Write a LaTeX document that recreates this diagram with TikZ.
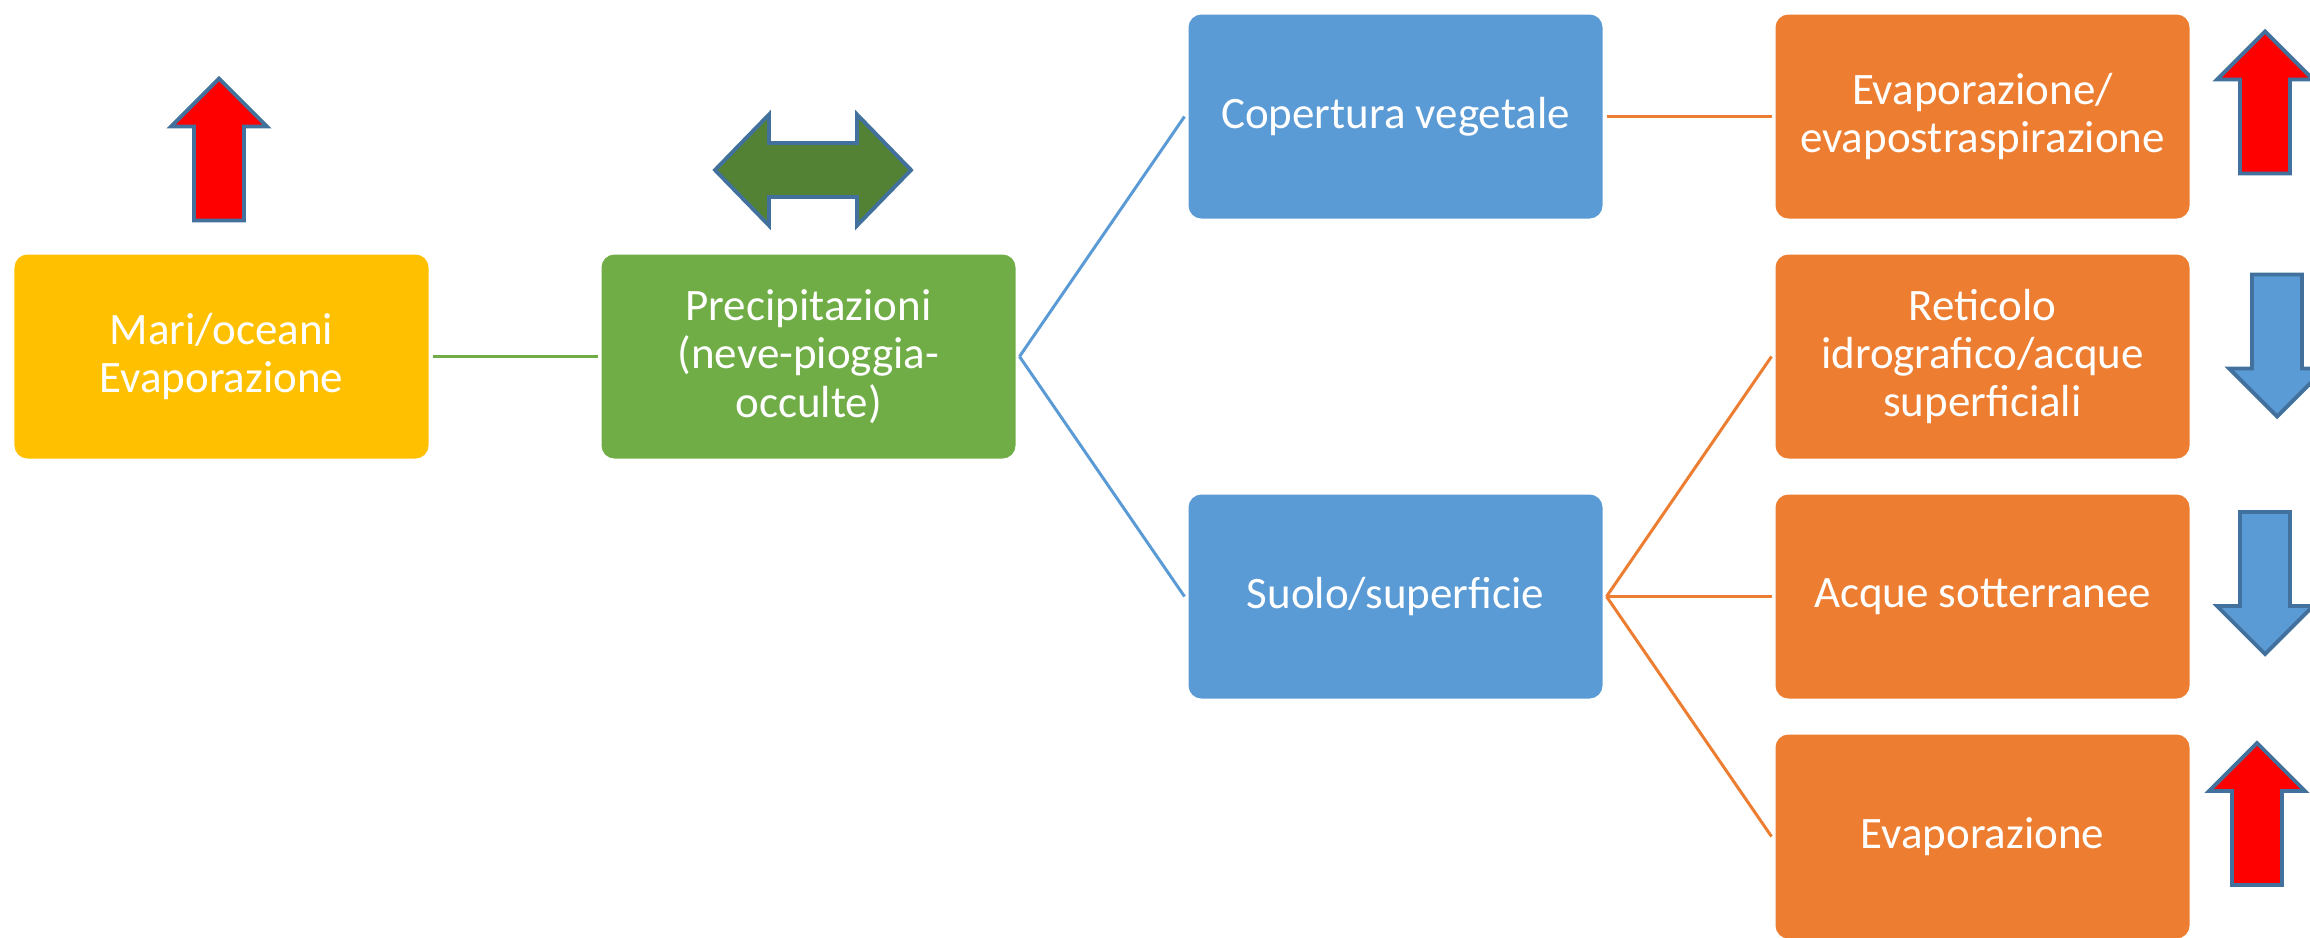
\documentclass[tikz,border=0pt]{standalone}
\usepackage{fontspec}
\setmainfont{Carlito}
\usetikzlibrary{positioning}
\definecolor{seaY}{HTML}{FFC000}
\definecolor{rainG}{HTML}{70AD47}
\definecolor{landB}{HTML}{5B9BD5}
\definecolor{flowO}{HTML}{ED7D31}
\definecolor{darkG}{HTML}{548235}
\definecolor{edgeB}{HTML}{41719C}

\tikzset{pics/blk/.style={code={%
  \draw[fill=#1,draw=edgeB,line width=1.1pt]
    (-0.25,-0.71)--(-0.25,0.23)--(-0.48,0.23)--(0,0.71)--(0.48,0.23)--(0.25,0.23)--(0.25,-0.71)--cycle;}}}

\begin{document}
\begin{tikzpicture}[font=\fontsize{12.8}{13.7}\selectfont,
  b/.style={rounded corners=1.3mm,minimum width=41.4mm,minimum height=20.4mm,align=center,text=white,outer sep=0.4mm},
  l/.style={line width=0.85pt}]
\useasboundingbox (0,0) rectangle (23.10,-9.37);
\node[b,fill=seaY] (mari) at (2.215,-3.565) {Mari/oceani\\Evaporazione};
\node[b,fill=rainG,right=16.5mm of mari] (prec) {Precipitazioni\\(neve-pioggia-\\occulte)};
\node[b,fill=landB,right=16.5mm of prec,yshift=24mm] (cop) {Copertura vegetale};
\node[b,fill=landB,right=16.5mm of prec,yshift=-24mm] (suolo) {Suolo/superficie};
\node[b,fill=flowO,right=16.5mm of cop] (evt) {Evaporazione/\\evapostraspirazione};
\node[b,fill=flowO,right=16.5mm of suolo,yshift=24mm] (ret) {Reticolo\\idrografico/acque\\superficiali};
\node[b,fill=flowO,right=16.5mm of suolo] (sott) {Acque sotterranee};
\node[b,fill=flowO,right=16.5mm of suolo,yshift=-24mm] (evs) {Evaporazione};
\draw[l,rainG](mari)--(prec);
\draw[l,landB](prec.east)--(cop.west);\draw[l,landB](prec.east)--(suolo.west);
\draw[l,flowO](cop)--(evt);
\draw[l,flowO](suolo.east)--(ret.west);\draw[l,flowO](suolo)--(sott);\draw[l,flowO](suolo.east)--(evs.west);
% block arrows
\pic at (2.19,-1.495) {blk=red};
\draw[fill=darkG,draw=edgeB,line width=1.1pt,shift={(8.13,-1.70)}]
  (-0.98,0)--(-0.44,0.555)--(-0.44,0.27)--(0.44,0.27)--(0.44,0.555)--(0.98,0)
  --(0.44,-0.555)--(0.44,-0.27)--(-0.44,-0.27)--(-0.44,-0.555)--cycle;
\pic at (22.65,-1.025) {blk=red};
\pic[rotate=180] at (22.77,-3.455) {blk=landB};
\pic[rotate=180] at (22.65,-5.83) {blk=landB};
\pic at (22.57,-8.14) {blk=red};
\end{tikzpicture}
\end{document}
